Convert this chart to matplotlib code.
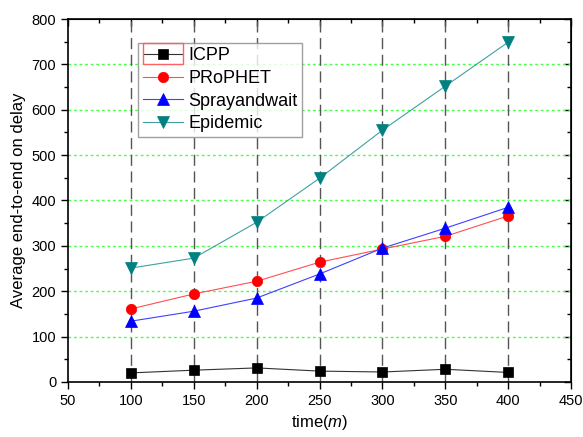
import matplotlib
matplotlib.use("Agg")
import matplotlib.pyplot as plt
from matplotlib.ticker import MultipleLocator
from matplotlib.patches import Rectangle

plt.rcParams['font.family'] = ['Liberation Sans', 'DejaVu Sans']
plt.rcParams['mathtext.fontset'] = 'custom'
plt.rcParams['mathtext.it'] = 'Liberation Sans:italic'
plt.rcParams['mathtext.rm'] = 'Liberation Sans'

# data
times = [100, 150, 200, 250, 300, 350, 400]
icpp = [20, 26, 31, 24, 22, 28, 21]
prophet = [161, 194, 222, 264, 293, 321, 366]
spray = [134, 156, 185, 238, 295, 339, 385]
epidemic = [251, 273, 352, 449, 555, 652, 749]

fig = plt.figure(figsize=(5.83, 4.37), dpi=100)
ax = fig.add_axes([0.1166, 0.1259, 0.863, 0.8306])

# grid: green dotted horizontal, dashed vertical
for y in range(100, 800, 100):
    ax.axhline(y, color='#4cff4c', lw=1, ls=(0, (2, 2)), zorder=1)
for x in times:
    ax.axvline(x, color='#555555', lw=1, ls=(0, (8, 4)), zorder=1)

ax.plot(times, icpp, color='#333333', lw=0.8, marker='s', ms=6.5, mew=0.5,
        mfc='black', mec='black', label='ICPP', zorder=3)
ax.plot(times, prophet, color='#ff5050', lw=0.8, marker='o', ms=7.5, mew=0.5,
        mfc='red', mec='red', label='PRoPHET', zorder=3)
ax.plot(times, spray, color='#4040ff', lw=0.8, marker='^', ms=8, mew=0.5,
        mfc='blue', mec='blue', label='Sprayandwait', zorder=3)
ax.plot(times, epidemic, color='#40a0a0', lw=0.8, marker='v', ms=8, mew=0.5,
        mfc='#008080', mec='#008080', label='Epidemic', zorder=3)

ax.set_xlim(50, 450)
ax.set_ylim(0, 800)
ax.xaxis.set_major_locator(MultipleLocator(50))
ax.xaxis.set_minor_locator(MultipleLocator(25))
ax.yaxis.set_major_locator(MultipleLocator(100))
ax.yaxis.set_minor_locator(MultipleLocator(50))
ax.tick_params(which='both', direction='out', labelsize=10.5, width=1)
ax.tick_params(which='major', length=5)
ax.tick_params(which='minor', length=3)
for s in ax.spines.values():
    s.set_linewidth(1.2)

# inward ticks on the top and right edges
top = ax.secondary_xaxis('top')
top.xaxis.set_major_locator(MultipleLocator(50))
top.xaxis.set_minor_locator(MultipleLocator(25))
top.tick_params(which='both', direction='in', labeltop=False, width=1)
top.tick_params(which='major', length=5)
top.tick_params(which='minor', length=3)
right = ax.secondary_yaxis('right')
right.yaxis.set_major_locator(MultipleLocator(100))
right.yaxis.set_minor_locator(MultipleLocator(50))
right.tick_params(which='both', direction='in', labelright=False, width=1)
right.tick_params(which='major', length=5)
right.tick_params(which='minor', length=3)

ax.set_xlabel('time($\\it{m}$)', fontsize=12)
ax.set_ylabel('Average end-to-end on delay', fontsize=12)

leg = ax.legend(loc='upper left', bbox_to_anchor=(0.14, 0.935), fontsize=13,
                frameon=True, fancybox=False, edgecolor='#888888',
                borderpad=0.25, labelspacing=0.32, handlelength=2.2,
                handletextpad=0.3, borderaxespad=0)
leg.get_frame().set_linewidth(1)

# red selection box around the first legend handle, as in the reference
fig.patches.append(Rectangle((143 / 583, 1 - 64 / 437), 40 / 583, 21 / 437,
                             transform=fig.transFigure, fill=False,
                             edgecolor='#ff6060', lw=1, zorder=10))

fig.savefig('out.png', dpi=100)
